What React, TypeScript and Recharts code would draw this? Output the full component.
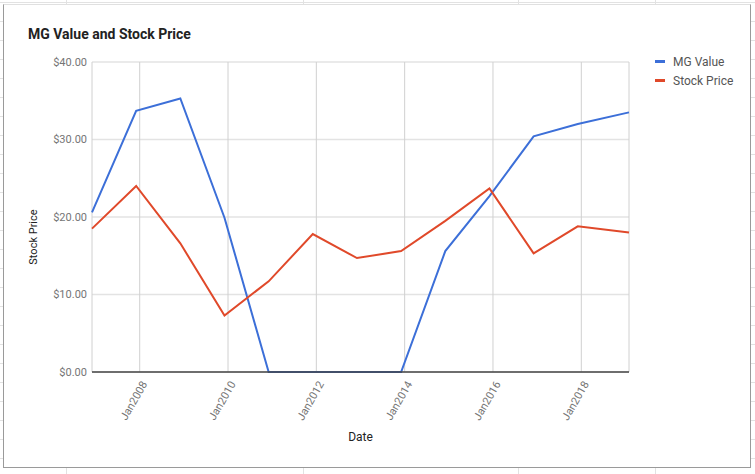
import {
  CartesianGrid,
  Label,
  Legend,
  Line,
  LineChart,
  XAxis,
  YAxis,
} from 'recharts';

// points fall roughly a month before each January gridline, last one is early 2019
const dates = [
  2006.92, 2007.92, 2008.92, 2009.92, 2010.92, 2011.92, 2012.92, 2013.92,
  2014.92, 2015.92, 2016.92, 2017.92, 2019.08,
];
const mgValue = [20.6, 33.7, 35.3, 19.9, 0, 0, 0, 0, 15.6, 22.7, 30.4, 32.0, 33.5];
const stockPrice = [18.5, 24.0, 16.6, 7.3, 11.7, 17.8, 14.7, 15.6, 19.5, 23.7, 15.3, 18.8, 18.0];
const xTicks = [2008, 2010, 2012, 2014, 2016, 2018];
const yTicks = [0, 10, 20, 30, 40];

const BLUE = '#3c6fd8';
const RED = '#e0492a';
const FONT = 'Roboto, "Noto Sans", sans-serif';

const data = dates.map((d, i) => ({
  date: d,
  mg: mgValue[i],
  stock: stockPrice[i],
}));

function DateTick({ x, y, payload }: { x?: number; y?: number; payload?: { value: number } }) {
  if (x == null || y == null || !payload) return null;
  const tx = x + 8;
  const ty = y + 4;
  return (
    <text
      x={tx}
      y={ty}
      transform={`rotate(-60 ${tx} ${ty})`}
      textAnchor="end"
      fill="#757575"
      fontSize={11}
      fontFamily={FONT}
    >
      {`Jan${payload.value}`}
    </text>
  );
}

function SideLegend({ payload }: { payload?: { value: string; color: string }[] }) {
  if (!payload) return null;
  return (
    <div style={{ fontFamily: FONT, fontSize: 12, color: '#555' }}>
      {payload.map((entry) => (
        <div key={entry.value} style={{ display: 'flex', alignItems: 'center', height: 19 }}>
          <span
            style={{
              display: 'inline-block',
              width: 10,
              height: 3,
              background: entry.color,
              marginRight: 8,
            }}
          />
          {entry.value}
        </div>
      ))}
    </div>
  );
}

const rowLines = 'repeating-linear-gradient(to bottom, #e2e2e2 0px, #e2e2e2 1px, transparent 1px, transparent 19px)';

export default function App() {
  return (
    <div
      style={{
        position: 'absolute',
        left: 0,
        top: 0,
        width: 755,
        height: 474,
        background: '#fff',
        backgroundImage: rowLines,
        backgroundPosition: '0 2px',
        overflow: 'hidden',
      }}
    >
      {[66, 303, 518, 655].map((cx) => (
        <div
          key={cx}
          style={{ position: 'absolute', left: cx, top: 0, width: 1, height: 474, background: '#e2e2e2' }}
        />
      ))}
      <div
        style={{
          position: 'absolute',
          left: 3,
          top: 4,
          width: 746,
          height: 462,
          background: '#fff',
          borderLeft: '1px solid #9a9a9a',
          borderRight: '1px solid #9a9a9a',
          borderBottom: '1px solid #9a9a9a',
          borderTop: '1px solid #e0e0e0',
        }}
      />
      <div
        style={{
          position: 'absolute',
          left: 28,
          top: 26,
          fontFamily: FONT,
          fontSize: 14,
          fontWeight: 'bold',
          color: '#222',
        }}
      >
        MG Value and Stock Price
      </div>
      <div style={{ position: 'absolute', left: 0, top: 0 }}>
        <LineChart
          width={755}
          height={474}
          data={data}
          margin={{ top: 62, right: 26, bottom: 0, left: 0 }}
        >
          <CartesianGrid vertical={false} stroke="#e3e3e3" strokeWidth={1.5} />
          <CartesianGrid horizontal={false} stroke="#d0d0d0" strokeWidth={1} />
          <XAxis
            dataKey="date"
            type="number"
            domain={[2006.92, 2019.08]}
            ticks={xTicks}
            tick={<DateTick />}
            tickLine={false}
            axisLine={{ stroke: '#444', strokeWidth: 1.5 }}
            interval={0}
            height={102}
          >
            <Label
              value="Date"
              position="insideTop"
              offset={60}
              fill="#222"
              fontSize={12}
              fontFamily={FONT}
            />
          </XAxis>
          <YAxis
            domain={[0, 40]}
            ticks={yTicks}
            width={92}
            tickLine={false}
            axisLine={false}
            tickSize={0}
            tickMargin={5}
            tick={{ fill: '#757575', fontSize: 11, fontFamily: FONT }}
            tickFormatter={(v: number) => `$${v.toFixed(2)}`}
          >
            <Label
              content={() => (
                <text
                  x={37}
                  y={237}
                  transform="rotate(-90 37 237)"
                  textAnchor="middle"
                  fill="#222"
                  fontSize={11}
                  fontFamily={FONT}
                >
                  Stock Price
                </text>
              )}
            />
          </YAxis>
          <Legend
            layout="vertical"
            verticalAlign="top"
            align="right"
            content={<SideLegend />}
            wrapperStyle={{ position: 'absolute', left: 655, top: 52, width: 100 }}
          />
          <Line
            name="MG Value"
            dataKey="mg"
            stroke={BLUE}
            strokeWidth={2}
            dot={false}
            isAnimationActive={false}
          />
          <Line
            name="Stock Price"
            dataKey="stock"
            stroke={RED}
            strokeWidth={2}
            dot={false}
            isAnimationActive={false}
          />
        </LineChart>
      </div>
    </div>
  );
}
